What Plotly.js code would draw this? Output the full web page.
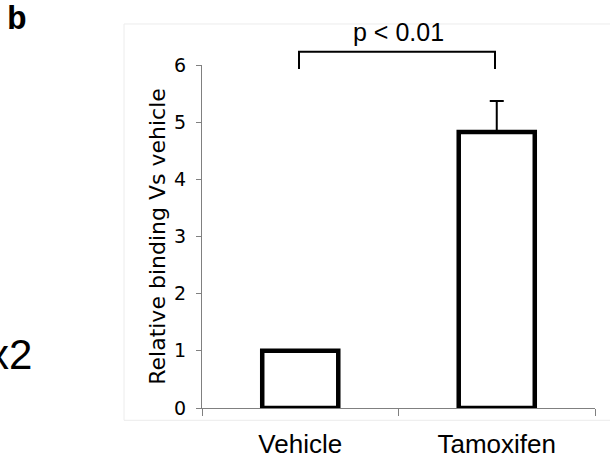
<!DOCTYPE html>
<html>
<head>
<meta charset="utf-8">
<script src="https://cdn.plot.ly/plotly-3.0.1.min.js"></script>
<style>html,body{margin:0;padding:0;background:#fff;}#chart{width:610px;height:461px;}</style>
</head>
<body>
<div id="chart"></div>
<script>
// Data
const categories = ["Vehicle", "Tamoxifen"];
const values = [1.0, 4.83];
const errorsUp = [0, 0.54];
const yTickValues = [0, 1, 2, 3, 4, 5, 6];
const yTitle = "Relative binding Vs vehicle";
const pText = "p < 0.01";
const panelLabel = "b";
const sideText = "x2";

// Layout geometry (pixels)
const W = 610, H = 461;
const L = 202, R = 595, T = 65, B = 407.7;
const px = x => (x - L) / (R - L);
const py = y => (B - y) / (B - T);

const trace = {
  type: "bar",
  x: categories,
  y: values,
  width: 0.387,
  marker: { color: "#ffffff", line: { color: "#000000", width: 4.5 } },
  error_y: {
    type: "data",
    symmetric: false,
    array: errorsUp,
    arrayminus: [0, 0],
    color: "#000000",
    thickness: 2,
    width: 7
  },
  hoverinfo: "none"
};

const layout = {
  width: W, height: H,
  margin: { l: L, r: W - R, t: T, b: H - B },
  paper_bgcolor: "#ffffff",
  plot_bgcolor: "#ffffff",
  showlegend: false,
  xaxis: {
    type: "category",
    range: [-0.5, 1.5],
    showline: true, linecolor: "#808080", linewidth: 1,
    ticks: "outside", ticklen: 7, tickcolor: "#808080", tickson: "boundaries",
    showgrid: false, zeroline: false,
    tickfont: { family: "Liberation Sans, Arial, sans-serif", size: 26, color: "#000" },
    ticklabelstandoff: 13
  },
  yaxis: {
    range: [0, 6],
    tickvals: yTickValues,
    showline: true, linecolor: "#808080", linewidth: 1,
    ticks: "outside", ticklen: 5, tickcolor: "#808080",
    showgrid: false, zeroline: false,
    tickfont: { family: "DejaVu Sans, Verdana, sans-serif", size: 19, color: "#000" },
    ticklabelstandoff: 6,
    title: { text: yTitle, font: { family: "DejaVu Sans, Verdana, sans-serif", size: 22, color: "#000" }, standoff: 2 }
  },
  shapes: [
    { type: "rect", xref: "paper", yref: "paper", x0: px(124), x1: px(640), y0: py(420), y1: py(24),
      line: { color: "#ececec", width: 1 }, fillcolor: "rgba(0,0,0,0)", layer: "below" },
    { type: "path", xref: "paper", yref: "paper",
      path: "M " + px(299) + "," + py(69) + " L " + px(299) + "," + py(51.7) + " L " + px(495) + "," + py(51.7) + " L " + px(495) + "," + py(69),
      line: { color: "#000", width: 2 } }
  ],
  annotations: [
    { text: pText, xref: "paper", yref: "paper", x: 0.5, y: py(32), xanchor: "center", yanchor: "middle",
      showarrow: false, font: { family: "Liberation Sans, Arial, sans-serif", size: 25, color: "#000" } },
    { text: "<b>" + panelLabel + "</b>", xref: "paper", yref: "paper", x: px(5), y: py(0), xanchor: "left", yanchor: "top",
      showarrow: false, font: { family: "Liberation Mono, Courier New, monospace", size: 33, color: "#000" } },
    { text: sideText, xref: "paper", yref: "paper", x: px(34), y: py(354), xanchor: "right", yanchor: "middle",
      showarrow: false, font: { family: "Liberation Sans, Arial, sans-serif", size: 42, color: "#000" } }
  ]
};

Plotly.newPlot("chart", [trace], layout, { staticPlot: true, displayModeBar: false });
</script>
</body>
</html>
